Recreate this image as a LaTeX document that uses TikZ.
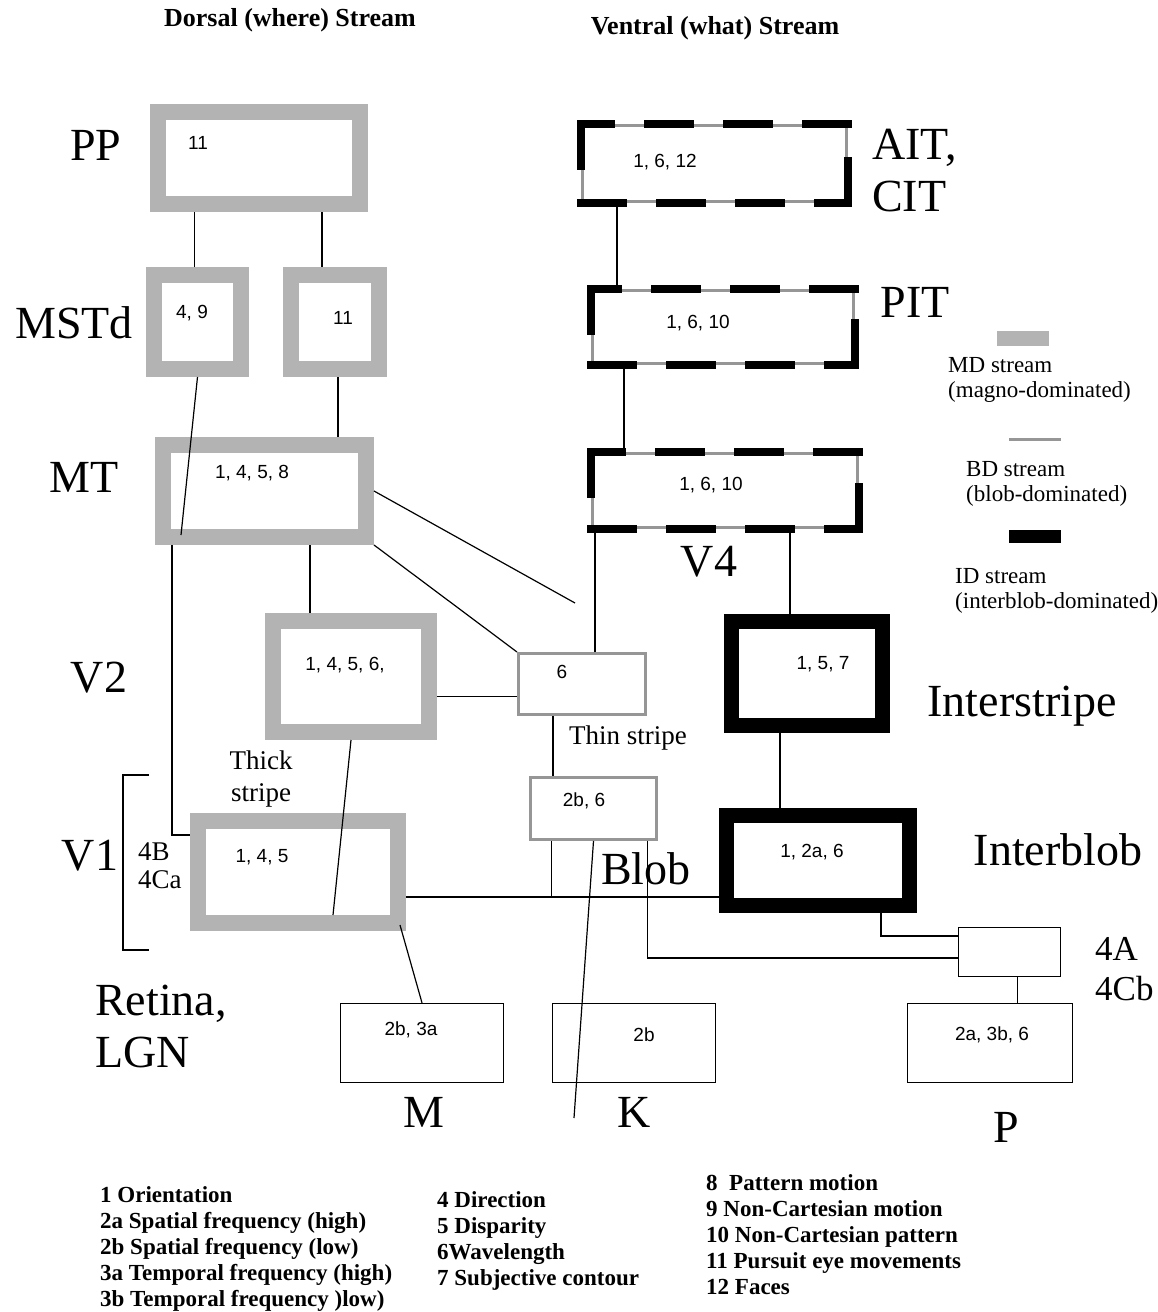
\documentclass[tikz,border=0pt]{standalone}
\usepackage{fontspec}
\setmainfont{Liberation Serif}
\setsansfont{Liberation Sans}
\usetikzlibrary{positioning}
\definecolor{mdgray}{RGB}{179,179,179}
\definecolor{bdgray}{RGB}{150,150,150}
\tikzset{
  mdbox/.style={rectangle, draw=mdgray, line width=16pt, inner sep=0pt},
  idbox/.style={rectangle, draw=black, line width=15pt, inner sep=0pt},
  bdbox/.style={rectangle, draw=bdgray, line width=3pt, inner sep=0pt},
  cellbox/.style={rectangle, draw=black, line width=1.3pt, inner sep=0pt},
  ventbox/.style={rectangle, draw=bdgray, line width=3pt, inner sep=0pt},
  iddash/.style={draw=black, line width=8pt, line cap=rect, dash pattern=on 42pt off 37pt},
  conn/.style={draw=black, line width=1.2pt},
  area/.style={font=\fontsize{46}{52}\selectfont, inner sep=0pt},
  sub/.style={font=\fontsize{27}{32}\selectfont, inner sep=0pt, align=center},
  num/.style={font=\sffamily\fontsize{19}{22}\selectfont, inner sep=0pt},
  key/.style={font=\fontsize{23}{25}\selectfont, inner sep=0pt, align=left},
  feat/.style={font=\bfseries\fontsize{23}{26}\selectfont, inner sep=0pt, align=left, anchor=north west},
  head/.style={font=\bfseries\fontsize{26}{30}\selectfont, inner sep=0pt},
}
\begin{document}
\begin{tikzpicture}[x=1pt, y=-1pt]
\useasboundingbox[fill=white] (0,0) rectangle (1157,1312);

% headings
\node[head] (dorsal) at (290,20) {Dorsal (where) Stream};
\node[head] (ventral) at (715,28) {Ventral (what) Stream};

% area names
\node[area] (ppname) at (96,145) {PP};
\node[area] (mstdname) at (74,323) {MSTd};
\node[area] (mtname) at (84,477) {MT};
\node[area] (vtwoname) at (99,678) {V2};
\node[area] (vonename) at (90,856) {V1};
\node[area, align=left, anchor=west] (lgnname) at (95,1026) {Retina,\\LGN};
\node[area, align=left, anchor=west] (aitname) at (872,171) {AIT,\\CIT};
\node[area] (pitname) at (915,302) {PIT};
\node[area] (vfourname) at (709,562) {V4};
\node[area] (istripename) at (1022,706) {Interstripe};
\node[area] (iblobname) at (1058,850) {Interblob};
\node[area] (blobname) at (646,869) {Blob};
\node[area] (mname) at (424,1112) {M};
\node[area] (kname) at (634,1112) {K};
\node[area] (pname) at (1006,1127) {P};
\node[sub, font=\fontsize{35}{40}\selectfont, align=left, anchor=west] (layerAname) at (1095,969) {4A\\4Cb};
\node[sub, font=\fontsize{27}{28}\selectfont, align=left, anchor=west] (layerBname) at (138,866) {4B\\4Ca};
\node[sub] (thickname) at (261,779) {Thick\\stripe};
\node[sub] (thinname) at (628,738) {Thin stripe};

% dorsal (MD) boxes
\node[mdbox, minimum width=202pt, minimum height=92pt] (pp) at (259,158) {};
\node[mdbox, minimum width=87pt, minimum height=94pt] (mstdl) at (197.5,322) {};
\node[mdbox, minimum width=88pt, minimum height=94pt] (mstdr) at (335,322) {};
\node[mdbox, minimum width=203pt, minimum height=92pt] (mt) at (264.5,491) {};
\node[mdbox, minimum width=156pt, minimum height=111pt] (vtwo) at (351,676.5) {};
\node[mdbox, minimum width=200pt, minimum height=102pt] (vone) at (298,872) {};

% ventral boxes, gray line with black dashes on each side
\node[ventbox, minimum width=264pt, minimum height=76pt] (ait) at (714.5,163.5) {};
\node[ventbox, minimum width=261pt, minimum height=73pt] (pit) at (723,327) {};
\node[ventbox, minimum width=265pt, minimum height=74pt] (vfour) at (725,490.5) {};
\draw[iddash] (ait.north west) -- (ait.south west) (ait.south west) -- (ait.south east)
  (ait.south east) -- (ait.north east) (ait.north east) -- (ait.north west);
\draw[iddash] (pit.north west) -- (pit.south west) (pit.south west) -- (pit.south east)
  (pit.south east) -- (pit.north east) (pit.north east) -- (pit.north west);
\draw[iddash] (vfour.north west) -- (vfour.south west) (vfour.south west) -- (vfour.south east)
  (vfour.south east) -- (vfour.north east) (vfour.north east) -- (vfour.north west);

\node[bdbox, minimum width=127pt, minimum height=61pt] (thin) at (582,684) {};
\node[bdbox, minimum width=126pt, minimum height=62pt] (blobbox) at (593.5,808.5) {};
\node[idbox, minimum width=151pt, minimum height=104pt] (istripe) at (807,673.5) {};
\node[idbox, minimum width=183pt, minimum height=90pt] (iblob) at (818,860.5) {};

% LGN layers and cells
\node[cellbox, minimum width=102pt, minimum height=49pt] (layerA) at (1009.5,952) {};
\node[cellbox, minimum width=165pt, minimum height=79pt] (pbox) at (990,1043) {};
\node[cellbox, minimum width=163pt, minimum height=79pt] (mbox) at (422,1043) {};
\node[cellbox, minimum width=163pt, minimum height=79pt] (kbox) at (634,1043) {};

% feature numbers
\node[num] at (198,143) {11};
\node[num] at (192,313) {4, 9};
\node[num] at (343,318) {11};
\node[num] at (252,473) {1, 4, 5, 8};
\node[num] at (345,665) {1, 4, 5, 6,};
\node[num] at (262,857) {1, 4, 5};
\node[num] at (665,162) {1, 6, 12};
\node[num] at (698,323) {1, 6, 10};
\node[num] at (711,485) {1, 6, 10};
\node[num] at (562,672) {6};
\node[num] at (584,801) {2b, 6};
\node[num] at (823,664) {1, 5, 7};
\node[num] at (812,852) {1, 2a, 6};
\node[num] at (411,1030) {2b, 3a};
\node[num] at (644,1035) {2b};
\node[num] at (992,1035) {2a, 3b, 6};

% free ends
\coordinate (mtend) at (575,603);
\coordinate (blobtail) at (574,1118);
\coordinate (vonejoin) at ([yshift=-25pt]vone.east);

% dorsal connections
\draw[conn] ([xshift=-3pt]mstdl.north) -- ([xshift=-3pt]mstdl.north |- pp.south);
\draw[conn] ([xshift=-13pt]mstdr.north) -- ([xshift=-13pt]mstdr.north |- pp.south);
\draw[conn] (mstdl.south) -- ([xshift=26pt,yshift=10pt]mt.south west);
\draw[conn] ([xshift=3pt]mstdr.south) -- ([xshift=3pt]mstdr.south |- mt.north);
\draw[conn] ([xshift=17pt]mt.south west) |- ([yshift=37pt]vone.west);
\draw[conn] ([xshift=-41pt]vtwo.north) -- ([xshift=-41pt]vtwo.north |- mt.south);
\draw[conn] (mt.east) -- (mtend);
\draw[conn] (mt.south east) -- (thin.north west);
\draw[conn] ([yshift=-20pt]vtwo.east) -- ([yshift=-20pt]vtwo.east -| thin.west);
\draw[conn] (vtwo.south) -- ([xshift=35pt,yshift=16pt]vone.south);
\draw[conn] ([xshift=-6pt,yshift=6pt]vone.south east) -- (mbox.north);

% ventral connections
\draw[conn] ([xshift=-106pt]pit.north) -- ([xshift=-106pt]pit.north |- ait.south);
\draw[conn] ([xshift=-101pt]vfour.north) -- ([xshift=-101pt]vfour.north |- pit.south);
\draw[conn] ([xshift=13pt]thin.north) -- ([xshift=13pt]thin.north |- vfour.south);
\draw[conn] ([xshift=-17pt]istripe.north) -- ([xshift=-17pt]istripe.north |- vfour.south);
\draw[conn] ([xshift=-38pt]iblob.north) -- ([xshift=-38pt]iblob.north |- istripe.south);
\draw[conn] ([xshift=-29pt]thin.south) -- ([xshift=-29pt]thin.south |- blobbox.north);

% V1 and LGN connections
\draw[conn] (vonejoin) -- (vonejoin -| iblob.west);
\draw[conn] ([xshift=-42pt]blobbox.south) -- ([xshift=-42pt]blobbox.south |- vonejoin);
\draw[conn] (blobbox.south) -- (blobtail);
\draw[conn] ([xshift=54pt]blobbox.south) |- ([yshift=-6pt]layerA.west);
\draw[conn] ([xshift=63pt]iblob.south) |- ([yshift=16pt]layerA.west);
\draw[conn] ([xshift=8pt]layerA.south) -- ([xshift=8pt]layerA.south |- pbox.north);

% V1 bracket
\draw[conn] (149,775) -- (123,775) -- (123,950) -- (149,950);

% stream key
\fill[mdgray] (997,331) rectangle (1049,346);
\node[key, anchor=west] (mdkey) at (948,380) {MD stream\\(magno-dominated)};
\draw[bdgray, line width=3pt] (1009,439) -- (1061,439);
\node[key, anchor=west] (bdkey) at (966,484) {BD stream\\(blob-dominated)};
\fill[black] (1009,530) rectangle (1061,543);
\node[key, anchor=west] (idkey) at (955,591) {ID stream\\(interblob-dominated)};

% feature list
\node[feat] (featA) at (100,1186) {1 Orientation\\2a Spatial frequency (high)\\2b Spatial frequency (low)\\3a Temporal frequency (high)\\3b Temporal frequency )low)};
\node[feat] (featB) at (437,1191) {4 Direction\\5 Disparity\\6Wavelength\\7 Subjective contour};
\node[feat] (featC) at (706,1174) {8 \ Pattern motion\\9 Non-Cartesian motion\\10 Non-Cartesian pattern\\11 Pursuit eye movements\\12 Faces};
\end{tikzpicture}
\end{document}
